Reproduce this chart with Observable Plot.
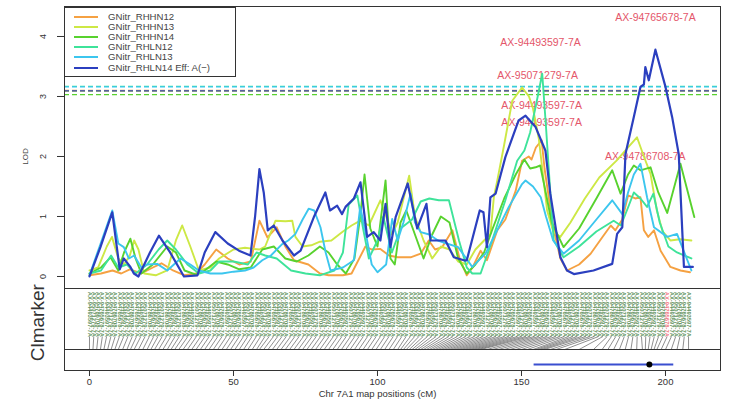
<!DOCTYPE html>
<html><head><meta charset="utf-8">
<script src="https://cdn.jsdelivr.net/npm/d3@7"></script>
<script src="https://cdn.jsdelivr.net/npm/@observablehq/plot@0.6"></script>
<style>
html,body{margin:0;padding:0;background:#fff;}
#wrap{position:relative;width:730px;height:401px;font-family:"Liberation Sans",Arial,sans-serif;}
#legend{position:absolute;left:64px;top:7px;width:172px;height:70px;border:1px solid #333;background:#fff;box-sizing:border-box;}
.row{position:absolute;left:0;height:10px;font-size:9.6px;color:#444;line-height:10px;white-space:nowrap;}
.row span.sw{position:absolute;left:9px;top:4px;width:24px;height:2px;}
.row span.tx{position:absolute;left:43px;top:0;}
</style></head>
<body><div id="wrap"><div id="legend"></div></div>
<script>
// ---- series names & colours ----
const seriesNames = ["GNitr_RHHN12","GNitr_RHHN13","GNitr_RHHN14","GNitr_RHLN12","GNitr_RHLN13","GNitr_RHLN14"];
const legendLabels = ["GNitr_RHHN12","GNitr_RHHN13","GNitr_RHHN14","GNitr_RHLN12","GNitr_RHLN13","GNitr_RHLN14 Eff: A(\u2212)"];
const seriesColors = ["#f5a142","#cde845","#58d22e","#3ee39a","#3cc6ee","#2b3fbf"];
const thresholds = [3.10, 3.09, 3.03, 3.17, 3.16, 3.095];
const lodTicks = [0, 1, 2, 3, 4];
const xTicks = [0, 50, 100, 150, 200];

// ---- LOD profiles: [cM, LOD] ----
const rhhn12 = [[0,0.02],[4,0.05],[8,0.1],[11,0.05],[14,0.12],[18,0.05],[22,0.15],[25,0.22],[29,0.1],[33,0.02],[37,0.05],[40,0.2],[44,0.45],[48,0.3],[52,0.2],[56,0.25],[59,0.93],[61.8,0.65],[65,0.82],[68,0.5],[71,0.27],[76,0.2],[80,0.05],[83,0.02],[88,0.02],[91,0.05],[95.8,0.5],[98,0.45],[101,0.46],[104,0.35],[107,0.32],[111.5,0.32],[115,0.38],[117.8,0.6],[120,0.45],[122.5,0.49],[126,0.77],[128.5,0.3],[131,0.02],[133,0.15],[135.8,0.43],[138,0.27],[141.6,0.77],[144.4,0.95],[148,1.43],[150.2,1.93],[152.5,2.0],[153.5,1.95],[155,2.15],[157,2.27],[158,1.8],[161,0.82],[163.5,0.3],[165.8,0.1],[170,0.2],[174,0.38],[178,0.65],[181,0.85],[182.6,0.77],[185,0.95],[187,1.35],[189.5,1.3],[191.3,1.32],[192.5,0.77],[194,0.66],[196,0.77],[198.3,0.43],[201.7,0.16],[205.2,0.1],[208.5,0.07]];
const rhhn13 = [[0,0.1],[3,0.15],[6,0.5],[7.8,0.66],[10,0.3],[12,0.2],[14,0.35],[15.5,0.6],[17,0.45],[19,0.05],[23,0.02],[27,0.1],[30,0.6],[32.2,0.85],[35,0.5],[38,0.1],[42,0.15],[45,0.3],[50,0.45],[54,0.48],[57,0.46],[59,0.45],[61,0.5],[64.6,0.93],[68,0.92],[70.4,0.93],[71.5,0.66],[74,0.5],[77,0.52],[80,0.58],[84,0.6],[88,0.75],[91,0.85],[94,0.93],[97,0.85],[101,1.27],[103,1.0],[105,0.7],[107,0.9],[111,1.68],[113,1.0],[116,0.6],[119,0.3],[122,0.5],[125,0.45],[128,0.25],[131,0.2],[134,0.45],[137,0.6],[139.2,0.71],[140.4,1.32],[141.6,1.6],[144,2.2],[146.8,2.93],[150.2,3.15],[152.6,3.0],[154,2.8],[156,2.3],[158.9,1.1],[161,0.75],[163.5,0.66],[167,0.9],[172,1.3],[177,1.65],[183,1.93],[187,2.15],[190.1,2.32],[192.5,2.0],[194.8,1.71],[197,1.1],[199,0.75],[201.7,0.6],[205,0.62],[209,0.6]];
const rhhn14 = [[0,0.05],[4,0.15],[7.3,0.32],[10,0.1],[12,0.4],[14.2,0.63],[16,0.3],[18,0.05],[22,0.2],[27,0.5],[30,0.4],[33,0.1],[37,0.03],[40,0.1],[44,0.25],[48,0.2],[52,0.12],[56,0.15],[60,0.45],[64,0.5],[68,0.3],[72,0.25],[76,0.35],[80,0.5],[83,0.4],[86,0.2],[89,0.05],[92,0.3],[94,1.0],[95.5,1.7],[97.5,0.8],[100,0.5],[102.8,1.6],[104.5,0.3],[106,0.2],[108,0.9],[110,1.1],[113,0.7],[116,0.3],[119,0.7],[122,1.0],[125,0.9],[128,0.3],[131,0.05],[134,0.2],[137,0.4],[140,0.8],[144,1.3],[148,1.7],[151,1.95],[153,1.8],[154.9,1.82],[156.5,1.85],[158,1.5],[160.5,0.9],[164.6,0.49],[170,0.8],[176,1.3],[181.5,1.77],[184.4,1.38],[187,1.7],[189,1.85],[191.3,1.77],[194.8,1.82],[197.5,1.4],[200.6,1.06],[205.2,1.88],[210,0.99]];
const rhln12 = [[0,0.05],[4,0.1],[7.5,0.35],[10,0.15],[13,0.2],[16,0.05],[20,0.2],[24,0.45],[27,0.6],[30,0.45],[34,0.2],[38,0.05],[42,0.1],[45,0.25],[50,0.25],[55,0.2],[58,0.4],[61,0.35],[65,0.3],[70,0.1],[75,0.05],[80,0.02],[85,0.1],[88,0.4],[90,1.2],[93,1.35],[95,0.8],[97,0.3],[100,0.6],[102,1.0],[105,0.4],[108,0.8],[112,0.95],[115,1.25],[118,1.3],[121.3,1.27],[124.8,1.27],[128.3,0.6],[131,0.15],[132.9,0.05],[135.8,0.05],[138,0.35],[139.8,0.6],[144.4,1.27],[148.5,1.93],[151,2.1],[153,2.4],[155,2.85],[157.2,3.38],[158.5,2.5],[160,1.4],[161.2,0.6],[164.6,0.32],[170,0.5],[176,0.75],[182,0.93],[184.5,0.85],[187,1.15],[189,1.4],[191.3,1.3],[193.6,1.16],[195.8,1.38],[198,0.9],[201,0.5],[204,0.4],[209,0.3]];
const rhln13 = [[0,0.02],[3.5,0.5],[7.9,1.1],[10,0.55],[11.9,0.49],[13.7,0.3],[15.5,0.35],[18,0.15],[20,0.2],[23.5,0.21],[27,0.1],[31.6,0.3],[35,0.2],[38,0.1],[42,0.05],[46,0.05],[50,0.08],[54,0.1],[57,0.15],[60,0.27],[63,0.35],[66.9,0.54],[69,0.6],[71.5,0.71],[74,0.95],[76.1,1.13],[78,1.1],[80.2,0.82],[82,0.4],[83.7,0.1],[88,0.15],[91.8,0.27],[94,1.16],[96,0.7],[98,0.2],[100,0.07],[103,0.2],[105.1,0.96],[107,0.6],[109,0.9],[111.5,1.38],[113,0.9],[115,0.74],[118,0.7],[121,0.6],[124,0.55],[128,0.49],[132.9,0.16],[137.5,0.38],[139.8,0.6],[145.6,1.16],[150.2,1.54],[151.4,1.6],[154,1.5],[156.7,1.32],[158.5,1.0],[161,0.6],[164.6,0.38],[170,0.6],[176,0.95],[181.5,1.27],[185,1.04],[187,1.4],[189,1.7],[191.3,1.88],[193.6,1.32],[196,0.82],[200.6,0.66],[204,0.71],[209,0.1]];
const rhln14 = [[0,0.0],[3.8,0.49],[7.9,1.07],[10.5,0.12],[11.9,0.3],[14.2,0.16],[15.4,0.05],[17,0.0],[21,0.4],[24.1,0.68],[28,0.4],[32.8,0.0],[37.5,0.02],[40,0.4],[43.7,0.74],[48,0.55],[51.9,0.43],[55.9,0.35],[57.5,1.0],[59,1.79],[60.5,1.4],[61.9,0.77],[64,0.85],[67,0.6],[71,0.35],[73.3,0.43],[77.9,0.99],[81.9,1.4],[83.5,1.1],[86,1.18],[87.7,1.04],[88.9,1.16],[91.8,1.3],[94.1,1.57],[96.4,0.66],[98.7,0.74],[101,0.6],[102.8,1.21],[104.5,0.49],[106.3,0.99],[110.5,1.55],[113.8,0.8],[117,1.21],[118.4,0.6],[122.5,0.6],[123.6,0.6],[126.5,0.32],[130,0.27],[131,0.27],[135.5,1.1],[136.8,1.07],[138,0.49],[139.2,1.32],[141,1.38],[144.4,1.99],[149,2.6],[151.4,2.68],[154.9,2.49],[158.3,2.1],[160,1.38],[163.5,0.32],[165.8,0.1],[168.2,0.04],[175,0.1],[181.5,0.21],[183.2,0.71],[185,0.82],[186.1,2.04],[189,2.66],[191.3,3.16],[192.5,3.2],[193,3.49],[194.2,3.27],[196.5,3.78],[200,3.16],[202.3,2.66],[204.6,2.04],[206.4,0.16],[209.5,0.16]];
const profiles = [rhhn12, rhhn13, rhhn14, rhln12, rhln13, rhln14];

// ---- peak marker annotations ----
const annoText = ["AX-94765678-7A","AX-94493597-7A","AX-95071279-7A","AX-94493597-7A","AX-94493597-7A","AX-94786708-7A"];
const annoPos = [196.5,156.6,155.6,157,157,193];
const annoLod = [4.32,3.9,3.35,2.85,2.57,2.0];

// ---- marker map (cM) ----
const markerPos = [0,1.2,2.5,3.8,5,6.3,7.5,8.8,10,11.5,13,14.2,15.5,17,18.5,20,21.3,22.6,24,25.5,27,28.3,29.6,31,32.5,34,35.5,37,38.5,40,41.5,43,44.5,46,47.5,49,50.5,52,53.5,55,56.5,58,59,60.5,62,63.5,65,66.5,68,69.5,71,72.5,74,75.5,77,78.5,80,81.5,83,84.5,86,87.5,89,90.5,92,93.5,95,96.5,98,99.5,101,102.5,104,105.5,107,108,109,110,111,112,113,114,115,116,117,118,119,120,121,122,123,124,125,126,127,128,129,130,131,132,133,134,135,136,138,140,142,144,146,148,150,152,154,155,156,157,158,160,162,165,170,175,178,180,182,184,186,188,190,192,193,194,195,196,197,198.5,200,202,204,206,208];
const markerNames = ["AX-94493597-7A","AX-95071279-7A","AX-94786708-7A","AX-94765678-7A"];
const highlightPos = [198.5];

// ---- QTL support interval ----
const ciLow = 154.2, ciHigh = 202.7, ciPeak = 194.4;

// ---- layout constants (LOD-unit panel bounds) ----
const panelTop = -0.2, panelBottom = -1.217, ciRow = -1.467;
const labelY = -0.63, linkTop = -1.0;

const thr = thresholds.map((v, k) => ({v, c: seriesColors[k]}));
const annos = annoText.map((t, i) => ({t, x: annoPos[i], y: annoLod[i]}));
const n = markerPos.length;
const markers = markerPos.map((p, i) => ({
  pos: p, slot: i * 208 / (n - 1), name: markerNames[i % markerNames.length],
  hi: highlightPos.includes(p)
}));

const font = '"Liberation Sans", Arial, sans-serif';
const chart = Plot.plot({
  width: 730, height: 401,
  marginLeft: 64, marginRight: 10, marginTop: 6, marginBottom: 31,
  x: {domain: [-8.68, 219.1]},
  y: {domain: [-1.567, 4.5]},
  style: {fontFamily: font, fontSize: "10px", color: "#333", background: "white"},
  marks: [
    Plot.text(annos, {x: "x", y: "y", text: "t", fill: "#e4566a", fontSize: 10.5,
      stroke: "white", strokeWidth: 3, strokeOpacity: 0.85, fontFamily: font,
      style: "letter-spacing:0.6px"}),
    Plot.ruleY(thr, {y: "v", stroke: "c", strokeDasharray: "5,3", strokeWidth: 1.3}),
    ...profiles.map((p, k) => Plot.line(p, {x: d => d[0], y: d => d[1], stroke: seriesColors[k],
      strokeWidth: k === 5 ? 2.2 : 1.9, strokeLinejoin: "round"})),
    // marker panel
    Plot.text(markers, {x: "slot", y: () => labelY, text: "name", rotate: 90, fontSize: 5.8,
      fontWeight: "bold", textAnchor: "middle", fill: d => d.hi ? "#ef5a6a" : "#3f7d3c", fillOpacity: 0.85}),
    Plot.link(markers, {x1: "slot", y1: () => linkTop, x2: "pos", y2: () => panelBottom,
      stroke: "#222", strokeWidth: 0.6, strokeOpacity: 0.85}),
    Plot.ruleY([panelTop, panelBottom], {stroke: "#333", strokeWidth: 1.2}),
    Plot.frame({stroke: "#333", strokeWidth: 1}),
    // support interval
    Plot.link([{a: ciLow, b: ciHigh}], {x1: "a", x2: "b", y1: () => ciRow, y2: () => ciRow, stroke: "#3a4fd0", strokeWidth: 2}),
    Plot.dot([ciPeak], {x: d => d, y: () => ciRow, r: 3, fill: "black"}),
    // axes
    Plot.axisX({ticks: xTicks, tickSize: 6, tickPadding: 2, label: null, fontSize: 9.5}),
    Plot.text(["Chr 7A1 map positions (cM)"], {x: () => 100, frameAnchor: "bottom", dy: 26, fontSize: 9.5, fill: "#333"}),
    Plot.axisY({ticks: lodTicks, tickSize: 7, tickFormat: () => "", label: null}),
    Plot.text(lodTicks, {y: d => d, text: d => String(d), frameAnchor: "left", dx: -21, rotate: -90,
      textAnchor: "middle", lineAnchor: "middle", fontSize: 9, fill: "#333"}),
    Plot.text(["LOD"], {y: () => 2, frameAnchor: "left", dx: -39, rotate: -90,
      textAnchor: "middle", lineAnchor: "middle", fontSize: 8, fill: "#444"}),
    Plot.text(["Clmarker"], {y: () => -0.77, frameAnchor: "left", dx: -27, rotate: -90,
      textAnchor: "middle", lineAnchor: "middle", fontSize: 19, fill: "#333"})
  ]
});
const wrap = document.getElementById("wrap");
wrap.insertBefore(chart, wrap.firstChild);
const lg = document.getElementById("legend");
legendLabels.forEach((t, k) => {
  const r = document.createElement("div");
  r.className = "row";
  r.style.top = (4 + k * 10.1) + "px";
  r.innerHTML = `<span class="sw" style="background:${seriesColors[k]}"></span><span class="tx">${t}</span>`;
  lg.appendChild(r);
});
</script></body></html>
